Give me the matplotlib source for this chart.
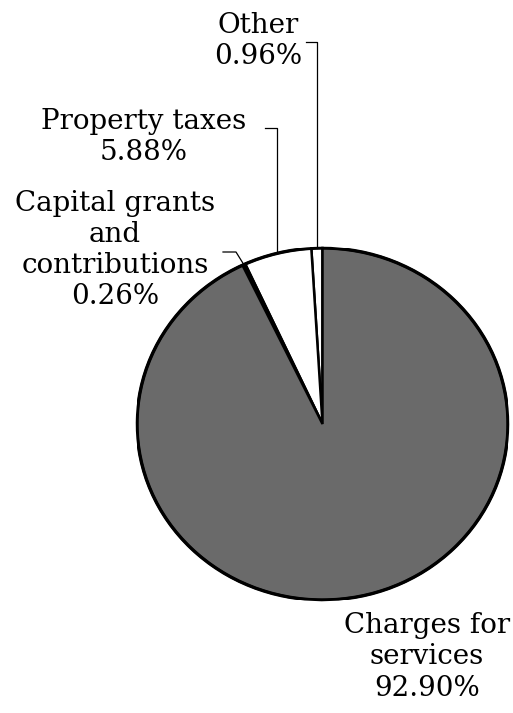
import numpy as np
import matplotlib
matplotlib.use("Agg")
import matplotlib.pyplot as plt

# revenue shares, percent
labels = ["Other", "Property taxes", "Capital grants\nand\ncontributions", "Charges for\nservices"]
shares = [0.96, 5.88, 0.26, 92.90]
colors = ["white", "white", "black", "#6a6a6a"]

W, H = 513, 713
fig = plt.figure(figsize=(W / 100, H / 100), dpi=100)

# pie box in pixels (left, top, right, bottom)
pl, pt, pr, pb = 137, 248, 508, 600
ax = fig.add_axes([pl / W, (H - pb) / H, (pr - pl) / W, (pb - pt) / H])
wedges, _ = ax.pie(shares, colors=colors, startangle=90, counterclock=True,
                   wedgeprops=dict(edgecolor="black", linewidth=1.8))
ax.set_aspect("auto")
ax.set_xlim(-1, 1)
ax.set_ylim(-1, 1)
outline = plt.Circle((0, 0), 1, fill=False, lw=2.4, color="black")
ax.add_patch(outline)

# overlay in pixel coordinates for labels
ov = fig.add_axes([0, 0, 1, 1])
ov.set_xlim(0, W)
ov.set_ylim(H, 0)
ov.axis("off")

cx, cy = (pl + pr) / 2, (pt + pb) / 2
rx, ry = (pr - pl) / 2, (pb - pt) / 2

def edge(w):
    a = np.deg2rad((w.theta1 + w.theta2) / 2)
    return cx + rx * np.cos(a), cy - ry * np.sin(a)

font = dict(family="DejaVu Serif", fontsize=20, ha="center", va="center",
            linespacing=1.2)

# text centre and leader elbow per slice
text_pos = [(258, 41), (144, 137), (115, 250), (427, 657)]
elbows = [[(306, 42), (317, 42)], [(265, 128), (277, 128)], [(223, 252), (236, 252)], None]

for lab, s, w, tp, el in zip(labels, shares, wedges, text_pos, elbows):
    ov.text(tp[0], tp[1], f"{lab}\n{s:.2f}%", **font)
    if el is None:
        continue
    ex, ey = edge(w)
    xs = [el[0][0], el[1][0], ex]
    ys = [el[0][1], el[1][1], ey]
    if lab != "Capital grants\nand\ncontributions":
        xs[1] = ex
    ov.plot(xs, ys, color="black", lw=0.9)

fig.savefig("out.png", dpi=100)
